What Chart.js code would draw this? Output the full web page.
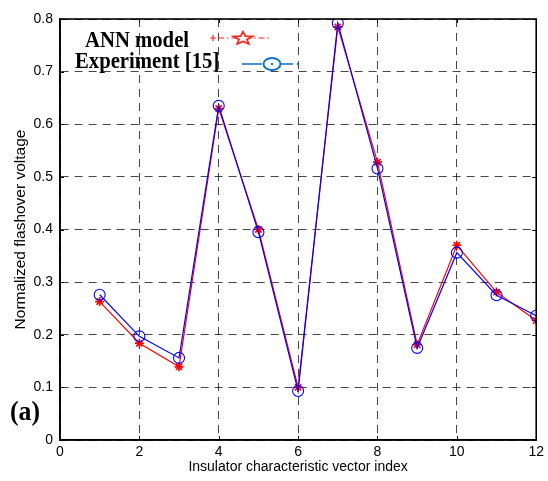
<!DOCTYPE html>
<html>
<head>
<meta charset="utf-8">
<script src="https://cdn.jsdelivr.net/npm/chart.js@4/dist/chart.umd.min.js"></script>
<style>
  html, body { margin: 0; padding: 0; background: #ffffff; }
  #wrap { width: 548px; height: 481px; }
</style>
</head>
<body>
<div id="wrap"><canvas id="c" width="548" height="481"></canvas></div>
<script>
// Insulator characteristic vector indices
const vectorIndex = [1, 2, 3, 4, 5, 6, 7, 8, 9, 10, 11, 12];
// Normalized flashover voltage predicted by the ANN model
const annModel = [0.263, 0.184, 0.139, 0.630, 0.400, 0.100, 0.785, 0.528, 0.181, 0.370, 0.281, 0.227];
// Normalized flashover voltage measured in experiment [15]
const experiment = [0.276, 0.197, 0.156, 0.635, 0.395, 0.093, 0.792, 0.516, 0.175, 0.356, 0.275, 0.236];
// Axis tick labels
const xTickLabels = ['0', '2', '4', '6', '8', '10', '12'];
const yTickLabels = ['0', '0.1', '0.2', '0.3', '0.4', '0.5', '0.6', '0.7', '0.8'];

const toPoints = (ys) => ys.map((y, i) => ({ x: vectorIndex[i], y }));

// Black box around the plot area, with short inward tick marks on every side
const framePlugin = {
  id: 'frame',
  afterDatasetsDraw(chart) {
    const { ctx, chartArea: a, scales } = chart;
    ctx.save();
    ctx.strokeStyle = '#000';
    ctx.lineWidth = 1;
    ctx.beginPath();
    scales.x.ticks.forEach(t => {
      const px = Math.round(scales.x.getPixelForValue(t.value)) + 0.5;
      ctx.moveTo(px, a.bottom); ctx.lineTo(px, a.bottom - 4);
      ctx.moveTo(px, a.top); ctx.lineTo(px, a.top + 4);
    });
    scales.y.ticks.forEach(t => {
      const py = Math.round(scales.y.getPixelForValue(t.value)) + 0.5;
      ctx.moveTo(a.left, py); ctx.lineTo(a.left + 4, py);
      ctx.moveTo(a.right, py); ctx.lineTo(a.right - 4, py);
    });
    ctx.stroke();
    ctx.lineWidth = 1.6;
    ctx.strokeRect(a.left, a.top, a.right - a.left, a.bottom - a.top);
    ctx.restore();
  }
};

// Draws text squeezed horizontally by factor sx, starting at x
function squeezedText(ctx, text, x, y, sx) {
  ctx.save();
  ctx.translate(x, y);
  ctx.scale(sx, 1);
  ctx.fillText(text, 0, 0);
  ctx.restore();
}

// Legend in the upper-left corner of the plot, plus the panel tag
const legendPlugin = {
  id: 'figLegend',
  afterDraw(chart) {
    const ctx = chart.ctx;
    ctx.save();
    ctx.fillStyle = '#000';
    ctx.textBaseline = 'alphabetic';
    ctx.textAlign = 'left';
    ctx.font = 'bold 23px "Liberation Serif", "Times New Roman", serif';
    squeezedText(ctx, 'ANN model', 85, 47, 0.9);
    squeezedText(ctx, 'Experiment [15]', 75, 68, 0.9);

    // red dash-dot sample with a pentagram marker
    ctx.strokeStyle = '#ff2020';
    ctx.lineWidth = 1.2;
    ctx.setLineDash([6, 3, 1.5, 3]);
    ctx.beginPath(); ctx.moveTo(218, 38); ctx.lineTo(270, 38); ctx.stroke();
    ctx.setLineDash([]);
    ctx.beginPath(); ctx.moveTo(210, 38); ctx.lineTo(216, 38); ctx.moveTo(213, 35); ctx.lineTo(213, 41); ctx.stroke();
    ctx.fillStyle = '#ffffff';
    ctx.lineWidth = 1.7;
    ctx.beginPath();
    for (let k = 0; k < 10; k++) {
      const r = k % 2 === 0 ? 9 : 3.8;
      const ang = -Math.PI / 2 + k * Math.PI / 5;
      const px = 243 + r * Math.cos(ang) * 1.1;
      const py = 38.5 + r * Math.sin(ang) * 0.75;
      if (k === 0) ctx.moveTo(px, py); else ctx.lineTo(px, py);
    }
    ctx.closePath(); ctx.fill(); ctx.stroke();

    // blue solid sample with a circle marker
    ctx.strokeStyle = '#0a6fc8';
    ctx.lineWidth = 1.6;
    ctx.beginPath(); ctx.moveTo(242, 64); ctx.lineTo(262, 64); ctx.moveTo(281, 64); ctx.lineTo(293, 64); ctx.stroke();
    ctx.lineWidth = 1.9;
    ctx.beginPath(); ctx.ellipse(272, 64, 8.5, 6, 0, 0, Math.PI * 2); ctx.stroke();
    ctx.fillStyle = '#0a6fc8';
    ctx.fillRect(271, 63, 2, 2);
    ctx.fillRect(297, 63, 2, 2);

    // panel tag
    ctx.fillStyle = '#000';
    ctx.font = 'bold 28px "Liberation Serif", "Times New Roman", serif';
    squeezedText(ctx, '(a)', 10, 420, 0.92);
    ctx.restore();
  }
};

const tickFont = { family: '"Liberation Sans Narrow", "Liberation Sans", Arial, sans-serif', size: 14 };

new Chart(document.getElementById('c'), {
  type: 'line',
  data: {
    datasets: [
      {
        label: 'Experiment [15]',
        data: toPoints(experiment),
        borderColor: '#0000ff',
        backgroundColor: 'rgba(0,0,0,0)',
        borderWidth: 1.2,
        pointStyle: 'circle',
        pointRadius: 5.5,
        pointBorderWidth: 1.1,
        pointBorderColor: '#0000ff',
        pointBackgroundColor: 'rgba(0,0,0,0)',
        tension: 0,
        order: 0
      },
      {
        label: 'ANN model',
        data: toPoints(annModel),
        borderColor: '#ff0000',
        backgroundColor: 'rgba(0,0,0,0)',
        borderWidth: 1.2,
        pointStyle: 'star',
        pointRadius: 4.5,
        pointBorderWidth: 1.6,
        pointBorderColor: '#ff0000',
        pointBackgroundColor: '#ff0000',
        tension: 0,
        order: 1
      }
    ]
  },
  options: {
    responsive: false,
    animation: false,
    devicePixelRatio: 1,
    layout: { padding: { top: 19, right: 10, left: 0, bottom: 0 } },
    plugins: {
      legend: { display: false },
      tooltip: { enabled: false }
    },
    scales: {
      x: {
        type: 'linear',
        min: 0,
        max: 12,
        ticks: {
          stepSize: 2,
          color: '#000',
          font: tickFont,
          padding: 4,
          maxRotation: 0,
          callback: (v) => xTickLabels[Math.round(v / 2)]
        },
        grid: { color: 'rgba(0,0,0,0.72)', lineWidth: 1, drawTicks: false },
        border: { display: true, color: '#000', width: 1.6, dash: [8, 6] },
        title: {
          display: true,
          text: 'Insulator characteristic vector index',
          color: '#000',
          font: { family: '"Liberation Sans", Arial, sans-serif', size: 14 },
          padding: { top: 0, bottom: 5 }
        },
        afterFit: (s) => { s.height = 41; }
      },
      y: {
        type: 'linear',
        min: 0,
        max: 0.8,
        ticks: {
          stepSize: 0.1,
          color: '#000',
          font: tickFont,
          padding: 7,
          callback: (v) => yTickLabels[Math.round(v * 10)]
        },
        grid: { color: 'rgba(0,0,0,0.72)', lineWidth: 1, drawTicks: false },
        border: { display: true, color: '#000', width: 1.6, dash: [8, 6] },
        title: {
          display: true,
          text: 'Normalized flashover voltage',
          color: '#000',
          font: { family: '"Liberation Sans", Arial, sans-serif', size: 15.5 },
          padding: { top: 11, bottom: 0 }
        },
        afterFit: (s) => { s.width = 60; }
      }
    }
  },
  plugins: [framePlugin, legendPlugin]
});
</script>
</body>
</html>
